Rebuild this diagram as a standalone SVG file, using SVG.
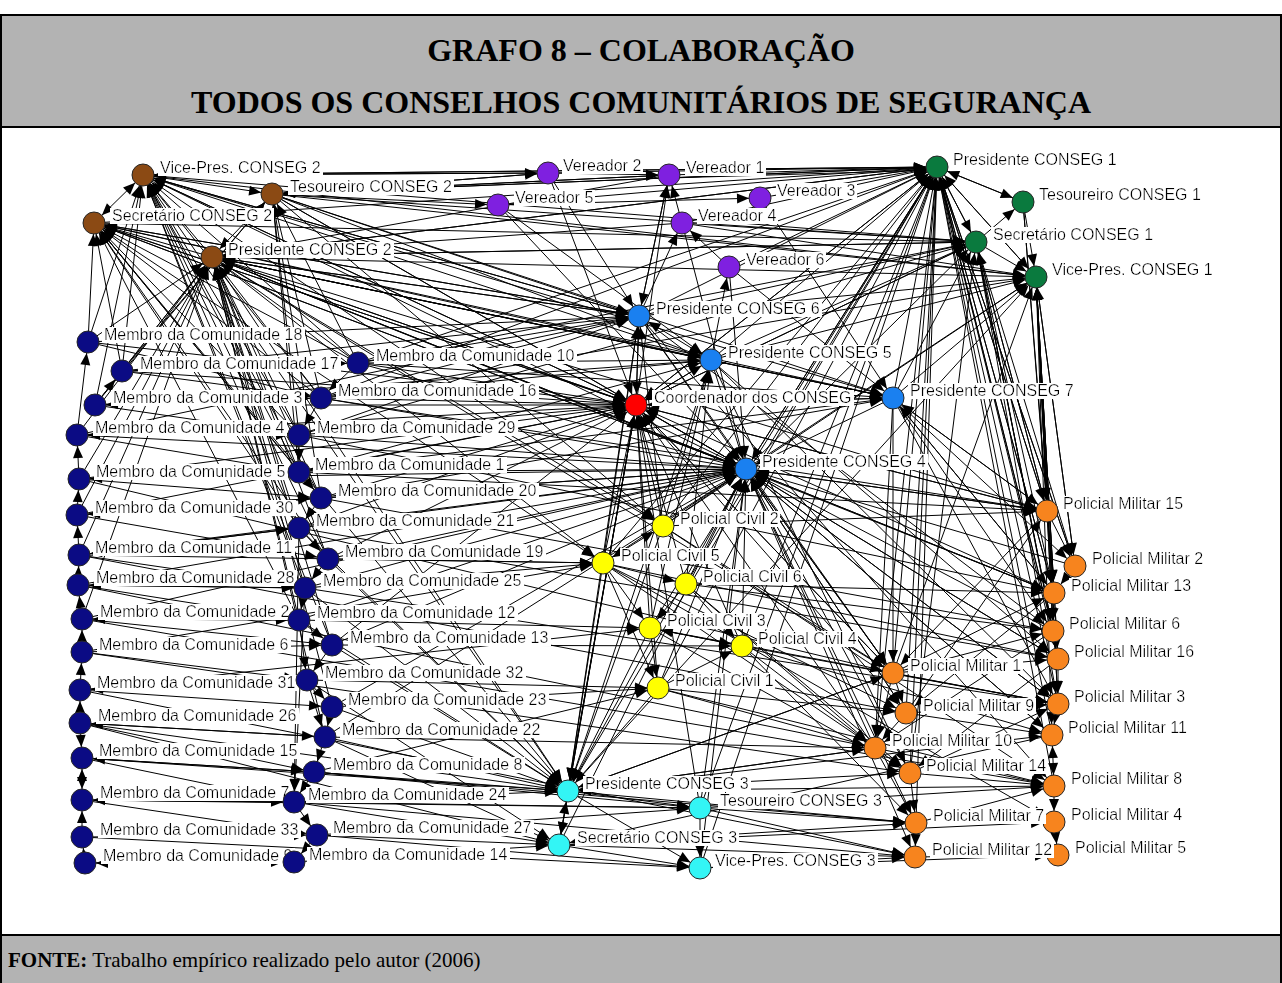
<svg xmlns="http://www.w3.org/2000/svg" width="1282" height="983" viewBox="0 0 1282 983">
<defs>
<style>
.e path{fill:none;stroke:#000;stroke-width:1;marker-end:url(#ah)}
.e path.b{marker-start:url(#ah)}
.n circle{stroke:#262626;stroke-width:1}
.n text{font-family:"Liberation Sans",Arial,sans-serif;font-size:16px;fill:#000;filter:url(#lb)}
.br circle{fill:#8b4a14}
.pu circle{fill:#7f20e0}
.gr circle{fill:#0a7a3e}
.bl circle{fill:#1a80f0}
.rd circle{fill:#ff0000}
.ye circle{fill:#ffff00}
.cy circle{fill:#33f5f5}
.or circle{fill:#f7841e}
.nv circle{fill:#0b0b84}
.title{font-family:"Liberation Serif","Times New Roman",serif;font-weight:bold;font-size:32px;text-anchor:middle}
.src{font-family:"Liberation Serif","Times New Roman",serif;font-size:21px}
</style>
<marker id="ah" viewBox="0 0 12 10" refX="23" refY="5" markerWidth="12" markerHeight="10" markerUnits="userSpaceOnUse" orient="auto-start-reverse" overflow="visible"><path d="M0 0L12 5L0 10z" fill="#000"/></marker>
<filter id="lb" x="-0.01" y="0.08" width="1.02" height="0.9"><feFlood flood-color="#fff"/><feComposite in="SourceGraphic"/></filter>
</defs>

<!-- frame, header and source bands -->
<rect x="0" y="0" width="1282" height="983" fill="#fff"/>
<rect x="1" y="15" width="1280" height="112" fill="#b3b3b3"/>
<rect x="1" y="935" width="1280" height="48" fill="#b3b3b3"/>
<path d="M1 983V15H1281V983" fill="none" stroke="#000" stroke-width="2"/>
<path d="M1 127H1281M1 935H1281" stroke="#000" stroke-width="2"/>
<text class="title" x="641" y="61">GRAFO 8 – COLABORAÇÃO</text>
<text class="title" x="641" y="113">TODOS OS CONSELHOS COMUNITÁRIOS DE SEGURANÇA</text>
<text class="src" x="8" y="967"><tspan font-weight="bold">FONTE:</tspan> Trabalho empírico realizado pelo autor (2006)</text>

<!-- directed ties -->
<g class="e">
<path d="M88 342L212 257"/><path d="M122 371L212 257"/><path d="M95 405L212 257"/><path d="M77 435L212 257"/><path d="M79 479L212 257"/><path d="M77 515L212 257"/><path d="M79 555L212 257"/><path d="M82 619L212 257"/><path d="M358 363L212 257"/><path d="M321 398L212 257"/><path d="M299 435L212 257"/><path d="M299 472L212 257"/><path d="M321 498L212 257"/><path d="M299 528L212 257"/><path d="M328 559L212 257"/><path d="M305 588L212 257"/><path d="M299 620L212 257"/><path d="M332 645L212 257"/><path d="M332 707L212 257"/><path d="M325 737L212 257"/>
<path d="M88 342L94 223"/><path d="M122 371L94 223"/><path d="M321 398L94 223"/><path d="M299 435L94 223"/><path d="M299 472L94 223"/><path d="M321 498L94 223"/><path d="M299 528L94 223"/><path d="M358 363L94 223"/><path d="M328 559L94 223"/><path d="M299 620L94 223"/>
<path d="M122 371L143 175"/><path d="M95 405L143 175"/><path d="M358 363L143 175"/><path d="M321 398L143 175"/><path d="M299 435L143 175"/><path d="M299 472L143 175"/><path d="M321 498L143 175"/><path d="M299 528L143 175"/><path d="M328 559L143 175"/><path d="M305 588L143 175"/><path d="M332 645L143 175"/><path d="M88 342L143 175"/>
<path d="M358 363L272 194"/><path d="M321 398L272 194"/><path d="M122 371L272 194"/><path d="M299 435L272 194"/><path d="M299 472L272 194"/><path d="M321 498L272 194"/><path d="M95 405L272 194"/>
<path d="M212 257L639 316"/><path d="M212 257L711 360"/><path d="M212 257L636 405"/><path d="M212 257L746 469"/><path d="M212 257L893 398"/><path d="M212 257L937 167"/><path d="M212 257L976 242"/><path d="M212 257L1036 277"/><path d="M212 257L1047 511"/><path d="M212 257L1054 593"/><path d="M212 257L663 526"/><path d="M212 257L603 563"/><path d="M212 257L568 791"/><path d="M212 257L893 673"/>
<path d="M143 175L548 173"/><path d="M143 175L937 167"/><path d="M143 175L636 405"/><path d="M143 175L746 469"/><path d="M143 175L639 316"/><path d="M143 175L711 360"/><path d="M143 175L568 791"/><path d="M143 175L893 398"/><path d="M143 175L976 242"/><path d="M143 175L1036 277"/><path d="M143 175L663 526"/>
<path d="M272 194L548 173"/><path d="M272 194L669 175"/><path d="M272 194L937 167"/><path d="M272 194L746 469"/><path d="M272 194L636 405"/><path d="M272 194L639 316"/><path d="M272 194L976 242"/><path d="M272 194L711 360"/><path d="M272 194L893 398"/><path d="M272 194L1036 277"/><path d="M272 194L498 205"/><path d="M272 194L663 526"/>
<path d="M94 223L636 405"/><path d="M94 223L746 469"/><path d="M94 223L711 360"/><path d="M94 223L937 167"/><path d="M94 223L639 316"/><path d="M94 223L568 791"/><path d="M94 223L893 398"/><path d="M94 223L976 242"/><path d="M94 223L603 563"/>
<path class="b" d="M94 223L143 175"/><path d="M212 257L94 223"/><path d="M212 257L143 175"/><path d="M272 194L212 257"/><path d="M143 175L272 194"/>
<path d="M639 316L212 257"/><path d="M711 360L212 257"/><path d="M636 405L212 257"/><path d="M746 469L212 257"/><path d="M669 175L212 257"/><path d="M937 167L212 257"/><path d="M976 242L212 257"/><path d="M682 223L212 257"/><path d="M893 398L212 257"/>
<path d="M937 167L143 175"/><path d="M548 173L143 175"/><path d="M639 316L143 175"/><path d="M636 405L143 175"/><path d="M639 316L94 223"/><path d="M636 405L94 223"/><path d="M746 469L94 223"/><path d="M548 173L272 194"/><path d="M937 167L272 194"/><path d="M669 175L272 194"/>
<path d="M77 435L88 342"/><path d="M95 405L122 371"/><path d="M79 479L77 435"/><path d="M77 515L79 479"/><path d="M79 555L77 515"/><path d="M78 585L79 555"/><path d="M82 619L78 585"/><path d="M82 652L82 619"/><path d="M80 690L82 652"/><path d="M80 723L80 690"/><path d="M80 723L82 758"/><path class="b" d="M82 800L82 758"/><path d="M82 837L82 800"/><path d="M85 863L82 837"/>
<path d="M358 363L321 398"/><path d="M321 398L299 435"/><path d="M299 435L299 472"/><path d="M299 472L321 498"/><path d="M321 498L299 528"/><path d="M299 528L328 559"/><path d="M328 559L305 588"/><path d="M305 588L299 620"/><path d="M299 620L332 645"/><path d="M332 645L307 680"/><path d="M307 680L332 707"/><path d="M332 707L325 737"/><path d="M325 737L314 772"/><path d="M314 772L294 802"/><path d="M294 802L317 835"/><path d="M317 835L294 862"/><path d="M307 680L325 737"/><path d="M299 620L307 680"/><path d="M305 588L294 802"/><path d="M299 528L294 802"/>
<path d="M122 371L358 363"/><path d="M122 371L321 398"/><path d="M95 405L321 398"/><path d="M77 435L299 435"/><path d="M79 479L299 472"/><path d="M77 515L321 498"/><path d="M79 555L299 528"/><path d="M78 585L305 588"/><path d="M82 619L299 620"/><path d="M82 652L332 645"/><path d="M80 690L307 680"/><path d="M80 723L325 737"/><path d="M82 758L314 772"/><path d="M82 800L294 802"/><path d="M82 837L317 835"/><path d="M85 863L294 862"/>
<path d="M88 342L321 398"/><path d="M95 405L299 435"/><path d="M77 435L299 472"/><path d="M79 479L321 498"/><path d="M77 515L328 559"/><path d="M79 555L305 588"/><path d="M78 585L299 620"/><path d="M82 619L332 645"/><path d="M82 652L307 680"/><path d="M80 690L332 707"/><path d="M80 723L314 772"/><path d="M82 758L294 802"/><path d="M82 800L317 835"/>
<path d="M321 398L95 405"/><path d="M299 435L77 435"/><path d="M299 472L79 479"/><path d="M321 498L77 515"/><path d="M299 528L79 555"/><path d="M305 588L78 585"/><path d="M299 620L82 619"/><path d="M307 680L80 690"/><path d="M325 737L80 723"/><path d="M314 772L82 758"/><path d="M294 802L82 800"/><path d="M294 862L85 863"/>
<path d="M325 737L568 791"/><path d="M314 772L568 791"/><path d="M294 802L568 791"/><path d="M317 835L559 845"/><path d="M332 645L568 791"/><path d="M299 620L568 791"/><path d="M332 707L568 791"/><path d="M294 802L559 845"/><path d="M314 772L700 808"/><path d="M325 737L559 845"/><path d="M82 758L568 791"/><path d="M80 723L568 791"/><path d="M82 800L700 808"/><path d="M299 528L568 791"/><path d="M328 559L568 791"/><path d="M307 680L559 845"/><path d="M305 588L568 791"/><path d="M294 862L559 845"/><path d="M82 837L700 868"/><path d="M80 723L559 845"/><path d="M294 802L700 808"/><path d="M317 835L700 808"/>
<path d="M79 479L746 469"/><path d="M299 472L746 469"/><path d="M321 498L746 469"/><path d="M299 435L746 469"/><path d="M299 528L746 469"/><path d="M321 398L746 469"/><path d="M358 363L746 469"/><path d="M328 559L746 469"/><path d="M332 645L746 469"/><path d="M77 435L746 469"/><path d="M77 515L746 469"/><path d="M79 555L746 469"/><path d="M78 585L746 469"/><path d="M82 619L746 469"/><path d="M299 620L746 469"/><path d="M305 588L746 469"/><path d="M332 707L746 469"/><path d="M325 737L746 469"/>
<path d="M95 405L636 405"/><path d="M358 363L636 405"/><path d="M321 398L636 405"/><path d="M299 435L636 405"/><path d="M299 472L636 405"/><path d="M122 371L636 405"/><path d="M88 342L636 405"/><path d="M321 498L636 405"/><path d="M77 435L636 405"/><path d="M79 479L636 405"/><path d="M77 515L636 405"/><path d="M328 559L636 405"/><path d="M299 528L636 405"/><path d="M332 645L636 405"/>
<path d="M79 555L603 563"/><path d="M328 559L603 563"/><path d="M305 588L603 563"/><path d="M299 620L650 628"/><path d="M332 645L742 646"/><path d="M332 707L658 688"/><path d="M82 652L603 563"/><path d="M80 690L650 628"/><path d="M307 680L658 688"/><path d="M314 772L658 688"/>
<path d="M79 479L893 673"/><path d="M79 555L906 713"/><path d="M78 585L875 748"/><path d="M82 652L910 773"/><path d="M80 690L915 857"/><path d="M82 619L1054 786"/><path d="M299 472L1047 511"/><path d="M299 435L1054 593"/><path d="M321 498L1053 631"/><path d="M299 528L1058 659"/><path d="M321 398L1047 511"/><path d="M358 363L893 398"/><path d="M305 588L1058 704"/><path d="M325 737L875 748"/><path d="M314 772L916 823"/><path d="M294 802L915 857"/><path d="M317 835L700 868"/><path d="M321 498L893 398"/><path d="M299 472L893 398"/><path d="M299 435L976 242"/><path d="M321 398L1036 277"/><path d="M358 363L976 242"/>
<path d="M321 398L639 316"/><path d="M358 363L639 316"/><path d="M358 363L711 360"/><path d="M321 398L711 360"/><path d="M299 435L639 316"/><path d="M77 435L639 316"/><path d="M95 405L711 360"/><path d="M122 371L639 316"/><path d="M88 342L639 316"/><path d="M299 472L711 360"/>
<path d="M548 173L669 175"/><path d="M669 175L937 167"/><path d="M669 178L937 170"/><path d="M498 205L760 198"/><path d="M760 198L937 167"/><path d="M548 173L937 167"/><path d="M682 223L669 175"/><path d="M729 267L682 223"/><path d="M639 316L669 175"/><path d="M639 316L682 223"/><path d="M682 223L937 167"/><path d="M729 267L937 167"/><path d="M498 205L937 167"/><path d="M636 405L669 175"/><path d="M729 267L746 469"/><path d="M669 175L639 316"/><path d="M548 173L639 316"/><path d="M498 205L746 469"/><path d="M682 223L746 469"/><path d="M729 267L893 398"/><path d="M760 198L893 398"/><path d="M498 205L711 360"/><path d="M548 173L636 405"/><path d="M711 360L729 267"/><path d="M682 223L976 242"/><path d="M682 223L1036 277"/>
<path d="M1047 511L937 167"/><path d="M1075 566L937 167"/><path d="M1054 593L937 167"/><path d="M1053 631L937 167"/><path d="M1058 659L937 167"/><path d="M1058 704L937 167"/><path d="M1052 735L937 167"/><path d="M1054 786L937 167"/><path d="M893 673L937 167"/><path d="M906 713L937 167"/><path d="M875 748L937 167"/><path d="M910 773L937 167"/><path d="M746 469L937 167"/><path d="M893 398L937 167"/><path d="M636 405L937 167"/><path d="M711 360L937 167"/><path d="M639 316L937 167"/><path d="M663 526L937 167"/><path d="M603 563L937 167"/><path d="M742 646L937 167"/><path d="M658 688L937 167"/><path d="M686 584L937 167"/><path d="M700 808L937 167"/><path d="M568 791L937 167"/><path d="M700 868L937 167"/><path d="M650 628L937 167"/><path d="M358 363L937 167"/><path d="M321 398L937 167"/><path d="M976 242L937 167"/><path d="M1036 277L937 167"/><path d="M1023 202L937 167"/><path d="M916 823L937 167"/>
<path d="M937 167L1023 202"/><path d="M937 167L976 242"/><path d="M1023 202L1036 277"/><path d="M976 242L1036 277"/><path d="M976 242L1023 202"/><path d="M937 167L1036 277"/>
<path d="M976 242L1047 511"/><path d="M976 242L1054 593"/><path d="M976 242L1053 631"/><path d="M976 242L1058 704"/><path d="M976 242L1075 566"/><path d="M976 242L1058 659"/><path d="M1036 277L1047 511"/><path d="M1036 277L1075 566"/><path d="M1036 277L1054 593"/><path d="M1036 277L1058 659"/><path d="M1036 277L1058 704"/><path d="M1036 277L1052 735"/><path d="M1036 277L1053 631"/><path d="M937 167L1047 511"/><path d="M937 167L1075 566"/><path d="M937 167L1054 593"/><path d="M937 167L1053 631"/><path d="M1023 202L1047 511"/><path d="M1023 202L1054 593"/>
<path d="M1047 511L1036 277"/><path d="M1054 593L1036 277"/><path d="M1075 566L1036 277"/><path d="M1053 631L976 242"/><path d="M1058 659L1036 277"/><path d="M1058 704L1036 277"/><path d="M1047 511L976 242"/>
<path d="M639 316L1036 277"/><path d="M711 360L1036 277"/><path d="M893 398L1036 277"/><path d="M636 405L976 242"/><path d="M746 469L976 242"/><path d="M639 316L976 242"/><path d="M711 360L976 242"/><path d="M893 398L976 242"/><path d="M663 526L1036 277"/><path d="M893 673L1036 277"/><path d="M746 469L1036 277"/><path d="M568 791L1036 277"/><path d="M910 773L976 242"/>
<path d="M663 526L746 469"/><path d="M603 563L746 469"/><path d="M686 584L746 469"/><path d="M1047 511L746 469"/><path d="M1054 593L746 469"/><path d="M1053 631L746 469"/><path d="M1058 659L746 469"/><path d="M893 673L746 469"/><path d="M906 713L746 469"/><path d="M875 748L746 469"/><path d="M1058 704L746 469"/><path d="M568 791L746 469"/><path d="M700 808L746 469"/><path d="M559 845L746 469"/><path d="M636 405L746 469"/><path d="M711 360L746 469"/><path d="M639 316L746 469"/><path d="M893 398L746 469"/><path d="M937 167L746 469"/><path d="M742 646L746 469"/><path d="M658 688L746 469"/><path d="M1075 566L746 469"/><path d="M910 773L746 469"/><path d="M1052 735L746 469"/><path d="M700 868L746 469"/>
<path d="M746 469L1047 511"/><path d="M746 469L1054 593"/><path d="M746 469L1058 659"/><path d="M746 469L1058 704"/><path d="M746 469L1052 735"/><path d="M746 469L893 673"/><path d="M746 469L906 713"/>
<path d="M639 316L636 405"/><path d="M711 360L636 405"/><path d="M746 469L636 405"/><path d="M893 398L636 405"/><path d="M663 526L636 405"/><path d="M603 563L636 405"/><path d="M650 628L636 405"/><path d="M658 688L636 405"/><path d="M686 584L636 405"/><path d="M568 791L636 405"/><path d="M559 845L636 405"/><path d="M893 673L636 405"/><path d="M875 748L636 405"/><path d="M1047 511L636 405"/><path d="M1054 593L636 405"/><path d="M937 167L636 405"/><path d="M976 242L636 405"/><path d="M742 646L636 405"/><path d="M700 808L636 405"/>
<path d="M636 405L568 791"/><path d="M636 405L559 845"/><path d="M636 405L893 673"/><path d="M636 405L1047 511"/><path d="M636 405L893 398"/><path d="M711 360L893 398"/><path class="b" d="M639 316L711 360"/><path d="M636 405L639 316"/><path d="M636 405L711 360"/>
<path d="M663 526L639 316"/><path d="M603 563L639 316"/><path d="M663 526L711 360"/><path d="M686 584L711 360"/><path d="M650 628L711 360"/>
<path d="M603 563L686 584"/><path d="M603 563L650 628"/><path d="M603 563L658 688"/><path d="M650 628L742 646"/><path class="b" d="M663 526L603 563"/><path d="M686 584L742 646"/><path d="M650 628L658 688"/><path d="M658 688L742 646"/><path d="M686 584L650 628"/><path d="M742 646L650 628"/>
<path d="M603 563L568 791"/><path d="M663 526L568 791"/><path d="M650 628L568 791"/><path d="M658 688L568 791"/><path d="M639 316L568 791"/><path d="M711 360L568 791"/>
<path d="M568 791L700 808"/><path class="b" d="M568 791L559 845"/><path d="M700 808L700 868"/><path d="M559 845L700 868"/><path d="M568 791L700 868"/>
<path d="M700 808L1054 786"/><path d="M700 808L915 857"/><path d="M700 868L915 857"/><path d="M568 791L875 748"/><path d="M568 791L910 773"/><path d="M568 791L916 823"/><path d="M559 845L916 823"/><path d="M559 845L915 857"/><path d="M568 791L893 673"/><path d="M700 808L916 823"/><path d="M568 791L1052 735"/><path d="M559 845L1054 822"/><path d="M700 868L1058 855"/>
<path d="M875 748L568 791"/><path d="M893 673L568 791"/><path d="M1054 786L568 791"/><path d="M1052 735L559 845"/>
<path d="M742 646L1058 704"/><path d="M742 646L1052 735"/><path d="M658 688L906 713"/><path d="M658 688L875 748"/><path d="M686 584L1054 593"/><path d="M686 584L1053 631"/><path d="M663 526L1047 511"/><path d="M603 563L1058 659"/><path d="M650 628L1058 704"/><path d="M658 688L1054 786"/>
<path d="M603 563L875 748"/><path d="M603 563L906 713"/><path d="M663 526L893 673"/><path d="M686 584L875 748"/><path d="M686 584L910 773"/><path d="M742 646L875 748"/><path d="M742 646L916 823"/><path d="M650 628L910 773"/><path d="M663 526L1054 786"/><path d="M603 563L1054 822"/>
<path d="M893 673L906 713"/><path d="M906 713L875 748"/><path d="M875 748L910 773"/><path d="M910 773L916 823"/><path d="M916 823L915 857"/><path d="M893 673L875 748"/><path d="M875 748L916 823"/>
<path d="M1047 511L1075 566"/><path d="M1047 511L1054 593"/><path d="M1054 593L1053 631"/><path d="M1053 631L1058 659"/><path d="M1058 659L1058 704"/><path d="M1058 704L1052 735"/><path class="b" d="M1052 735L1054 786"/><path d="M1054 786L1054 822"/><path d="M1054 822L1058 855"/>
<path d="M893 673L1058 704"/><path d="M906 713L1052 735"/><path d="M906 713L1058 704"/><path d="M875 748L1054 786"/><path d="M910 773L1054 786"/><path d="M915 857L1058 855"/><path d="M893 673L1058 659"/><path d="M893 673L1053 631"/><path d="M1075 566L1054 593"/><path d="M1047 511L1053 631"/><path d="M893 673L1054 593"/><path d="M906 713L1047 511"/><path d="M910 773L1058 704"/><path d="M916 823L1054 786"/>
<path d="M893 398L1047 511"/><path d="M893 398L1075 566"/><path d="M893 398L1054 593"/><path d="M893 398L1053 631"/><path d="M893 398L1058 704"/><path d="M893 398L893 673"/><path d="M893 398L875 748"/><path d="M1047 511L893 398"/><path d="M1054 593L893 398"/>
<path d="M639 316L893 673"/><path d="M711 360L1058 659"/><path d="M711 360L1058 704"/><path d="M639 316L1053 631"/><path d="M639 316L1054 786"/><path d="M636 405L906 713"/><path d="M711 360L910 773"/><path d="M746 469L916 823"/><path d="M746 469L915 857"/>
<path d="M1047 511L893 673"/><path d="M1054 593L906 713"/><path d="M1053 631L875 748"/><path d="M1058 659L910 773"/>
</g>

<!-- actors -->
<g id="n-vice-pres-conseg-2" class="n br"><circle cx="143" cy="175" r="11"/><text x="160" y="173">Vice-Pres. CONSEG 2</text></g>
<g id="n-tesoureiro-conseg-2" class="n br"><circle cx="272" cy="194" r="11"/><text x="290" y="192">Tesoureiro CONSEG 2</text></g>
<g id="n-secretario-conseg-2" class="n br"><circle cx="94" cy="223" r="11"/><text x="112" y="221">Secretário CONSEG 2</text></g>
<g id="n-presidente-conseg-2" class="n br"><circle cx="212" cy="257" r="11"/><text x="228" y="255">Presidente CONSEG 2</text></g>

<g id="n-vereador-2" class="n pu"><circle cx="548" cy="173" r="11"/><text x="563" y="171">Vereador 2</text></g>
<g id="n-vereador-5" class="n pu"><circle cx="498" cy="205" r="11"/><text x="515" y="203">Vereador 5</text></g>
<g id="n-vereador-1" class="n pu"><circle cx="669" cy="175" r="11"/><text x="686" y="173">Vereador 1</text></g>
<g id="n-vereador-3" class="n pu"><circle cx="760" cy="198" r="11"/><text x="777" y="196">Vereador 3</text></g>
<g id="n-vereador-4" class="n pu"><circle cx="682" cy="223" r="11"/><text x="698" y="221">Vereador 4</text></g>
<g id="n-vereador-6" class="n pu"><circle cx="729" cy="267" r="11"/><text x="746" y="265">Vereador 6</text></g>

<g id="n-presidente-conseg-1" class="n gr"><circle cx="937" cy="167" r="11"/><text x="953" y="165">Presidente CONSEG 1</text></g>
<g id="n-tesoureiro-conseg-1" class="n gr"><circle cx="1023" cy="202" r="11"/><text x="1039" y="200">Tesoureiro CONSEG 1</text></g>
<g id="n-secretario-conseg-1" class="n gr"><circle cx="976" cy="242" r="11"/><text x="993" y="240">Secretário CONSEG 1</text></g>
<g id="n-vice-pres-conseg-1" class="n gr"><circle cx="1036" cy="277" r="11"/><text x="1052" y="275">Vice-Pres. CONSEG 1</text></g>

<g id="n-presidente-conseg-6" class="n bl"><circle cx="639" cy="316" r="11"/><text x="656" y="314">Presidente CONSEG 6</text></g>
<g id="n-presidente-conseg-5" class="n bl"><circle cx="711" cy="360" r="11"/><text x="728" y="358">Presidente CONSEG 5</text></g>
<g id="n-coordenador" class="n rd"><circle cx="636" cy="405" r="11"/><text x="654" y="403">Coordenador dos CONSEG</text></g>
<g id="n-presidente-conseg-7" class="n bl"><circle cx="893" cy="398" r="11"/><text x="910" y="396">Presidente CONSEG 7</text></g>
<g id="n-presidente-conseg-4" class="n bl"><circle cx="746" cy="469" r="11"/><text x="762" y="467">Presidente CONSEG 4</text></g>

<g id="n-policial-civil-2" class="n ye"><circle cx="663" cy="526" r="11"/><text x="680" y="524">Policial Civil 2</text></g>
<g id="n-policial-civil-5" class="n ye"><circle cx="603" cy="563" r="11"/><text x="621" y="561">Policial Civil 5</text></g>
<g id="n-policial-civil-6" class="n ye"><circle cx="686" cy="584" r="11"/><text x="703" y="582">Policial Civil 6</text></g>
<g id="n-policial-civil-3" class="n ye"><circle cx="650" cy="628" r="11"/><text x="667" y="626">Policial Civil 3</text></g>
<g id="n-policial-civil-4" class="n ye"><circle cx="742" cy="646" r="11"/><text x="758" y="644">Policial Civil 4</text></g>
<g id="n-policial-civil-1" class="n ye"><circle cx="658" cy="688" r="11"/><text x="675" y="686">Policial Civil 1</text></g>

<g id="n-presidente-conseg-3" class="n cy"><circle cx="568" cy="791" r="11"/><text x="585" y="789">Presidente CONSEG 3</text></g>
<g id="n-tesoureiro-conseg-3" class="n cy"><circle cx="700" cy="808" r="11"/><text x="720" y="806">Tesoureiro CONSEG 3</text></g>
<g id="n-secretario-conseg-3" class="n cy"><circle cx="559" cy="845" r="11"/><text x="577" y="843">Secretário CONSEG 3</text></g>
<g id="n-vice-pres-conseg-3" class="n cy"><circle cx="700" cy="868" r="11"/><text x="715" y="866">Vice-Pres. CONSEG 3</text></g>

<g id="n-pm-15" class="n or"><circle cx="1047" cy="511" r="11"/><text x="1063" y="509">Policial Militar 15</text></g>
<g id="n-pm-2" class="n or"><circle cx="1075" cy="566" r="11"/><text x="1092" y="564">Policial Militar 2</text></g>
<g id="n-pm-13" class="n or"><circle cx="1054" cy="593" r="11"/><text x="1071" y="591">Policial Militar 13</text></g>
<g id="n-pm-6" class="n or"><circle cx="1053" cy="631" r="11"/><text x="1069" y="629">Policial Militar 6</text></g>
<g id="n-pm-16" class="n or"><circle cx="1058" cy="659" r="11"/><text x="1074" y="657">Policial Militar 16</text></g>
<g id="n-pm-3" class="n or"><circle cx="1058" cy="704" r="11"/><text x="1074" y="702">Policial Militar 3</text></g>
<g id="n-pm-11" class="n or"><circle cx="1052" cy="735" r="11"/><text x="1068" y="733">Policial Militar 11</text></g>
<g id="n-pm-8" class="n or"><circle cx="1054" cy="786" r="11"/><text x="1071" y="784">Policial Militar 8</text></g>
<g id="n-pm-4" class="n or"><circle cx="1054" cy="822" r="11"/><text x="1071" y="820">Policial Militar 4</text></g>
<g id="n-pm-5" class="n or"><circle cx="1058" cy="855" r="11"/><text x="1075" y="853">Policial Militar 5</text></g>
<g id="n-pm-1" class="n or"><circle cx="893" cy="673" r="11"/><text x="910" y="671">Policial Militar 1</text></g>
<g id="n-pm-9" class="n or"><circle cx="906" cy="713" r="11"/><text x="923" y="711">Policial Militar 9</text></g>
<g id="n-pm-10" class="n or"><circle cx="875" cy="748" r="11"/><text x="892" y="746">Policial Militar 10</text></g>
<g id="n-pm-14" class="n or"><circle cx="910" cy="773" r="11"/><text x="926" y="771">Policial Militar 14</text></g>
<g id="n-pm-7" class="n or"><circle cx="916" cy="823" r="11"/><text x="933" y="821">Policial Militar 7</text></g>
<g id="n-pm-12" class="n or"><circle cx="915" cy="857" r="11"/><text x="932" y="855">Policial Militar 12</text></g>

<g id="n-mc-18" class="n nv"><circle cx="88" cy="342" r="11"/><text x="104" y="340">Membro da Comunidade 18</text></g>
<g id="n-mc-17" class="n nv"><circle cx="122" cy="371" r="11"/><text x="140" y="369">Membro da Comunidade 17</text></g>
<g id="n-mc-3" class="n nv"><circle cx="95" cy="405" r="11"/><text x="113" y="403">Membro da Comunidade 3</text></g>
<g id="n-mc-4" class="n nv"><circle cx="77" cy="435" r="11"/><text x="95" y="433">Membro da Comunidade 4</text></g>
<g id="n-mc-5" class="n nv"><circle cx="79" cy="479" r="11"/><text x="96" y="477">Membro da Comunidade 5</text></g>
<g id="n-mc-30" class="n nv"><circle cx="77" cy="515" r="11"/><text x="95" y="513">Membro da Comunidade 30</text></g>
<g id="n-mc-11" class="n nv"><circle cx="79" cy="555" r="11"/><text x="95" y="553">Membro da Comunidade 11</text></g>
<g id="n-mc-28" class="n nv"><circle cx="78" cy="585" r="11"/><text x="96" y="583">Membro da Comunidade 28</text></g>
<g id="n-mc-2" class="n nv"><circle cx="82" cy="619" r="11"/><text x="100" y="617">Membro da Comunidade 2</text></g>
<g id="n-mc-6" class="n nv"><circle cx="82" cy="652" r="11"/><text x="99" y="650">Membro da Comunidade 6</text></g>
<g id="n-mc-31" class="n nv"><circle cx="80" cy="690" r="11"/><text x="97" y="688">Membro da Comunidade 31</text></g>
<g id="n-mc-26" class="n nv"><circle cx="80" cy="723" r="11"/><text x="98" y="721">Membro da Comunidade 26</text></g>
<g id="n-mc-15" class="n nv"><circle cx="82" cy="758" r="11"/><text x="99" y="756">Membro da Comunidade 15</text></g>
<g id="n-mc-7" class="n nv"><circle cx="82" cy="800" r="11"/><text x="100" y="798">Membro da Comunidade 7</text></g>
<g id="n-mc-33" class="n nv"><circle cx="82" cy="837" r="11"/><text x="100" y="835">Membro da Comunidade 33</text></g>
<g id="n-mc-9" class="n nv"><circle cx="85" cy="863" r="11"/><text x="103" y="861">Membro da Comunidade 9</text></g>

<g id="n-mc-10" class="n nv"><circle cx="358" cy="363" r="11"/><text x="376" y="361">Membro da Comunidade 10</text></g>
<g id="n-mc-16" class="n nv"><circle cx="321" cy="398" r="11"/><text x="338" y="396">Membro da Comunidade 16</text></g>
<g id="n-mc-29" class="n nv"><circle cx="299" cy="435" r="11"/><text x="317" y="433">Membro da Comunidade 29</text></g>
<g id="n-mc-1" class="n nv"><circle cx="299" cy="472" r="11"/><text x="315" y="470">Membro da Comunidade 1</text></g>
<g id="n-mc-20" class="n nv"><circle cx="321" cy="498" r="11"/><text x="338" y="496">Membro da Comunidade 20</text></g>
<g id="n-mc-21" class="n nv"><circle cx="299" cy="528" r="11"/><text x="316" y="526">Membro da Comunidade 21</text></g>
<g id="n-mc-19" class="n nv"><circle cx="328" cy="559" r="11"/><text x="345" y="557">Membro da Comunidade 19</text></g>
<g id="n-mc-25" class="n nv"><circle cx="305" cy="588" r="11"/><text x="323" y="586">Membro da Comunidade 25</text></g>
<g id="n-mc-12" class="n nv"><circle cx="299" cy="620" r="11"/><text x="317" y="618">Membro da Comunidade 12</text></g>
<g id="n-mc-13" class="n nv"><circle cx="332" cy="645" r="11"/><text x="350" y="643">Membro da Comunidade 13</text></g>
<g id="n-mc-32" class="n nv"><circle cx="307" cy="680" r="11"/><text x="325" y="678">Membro da Comunidade 32</text></g>
<g id="n-mc-23" class="n nv"><circle cx="332" cy="707" r="11"/><text x="348" y="705">Membro da Comunidade 23</text></g>
<g id="n-mc-22" class="n nv"><circle cx="325" cy="737" r="11"/><text x="342" y="735">Membro da Comunidade 22</text></g>
<g id="n-mc-8" class="n nv"><circle cx="314" cy="772" r="11"/><text x="333" y="770">Membro da Comunidade 8</text></g>
<g id="n-mc-24" class="n nv"><circle cx="294" cy="802" r="11"/><text x="308" y="800">Membro da Comunidade 24</text></g>
<g id="n-mc-27" class="n nv"><circle cx="317" cy="835" r="11"/><text x="333" y="833">Membro da Comunidade 27</text></g>
<g id="n-mc-14" class="n nv"><circle cx="294" cy="862" r="11"/><text x="309" y="860">Membro da Comunidade 14</text></g>
</svg>
